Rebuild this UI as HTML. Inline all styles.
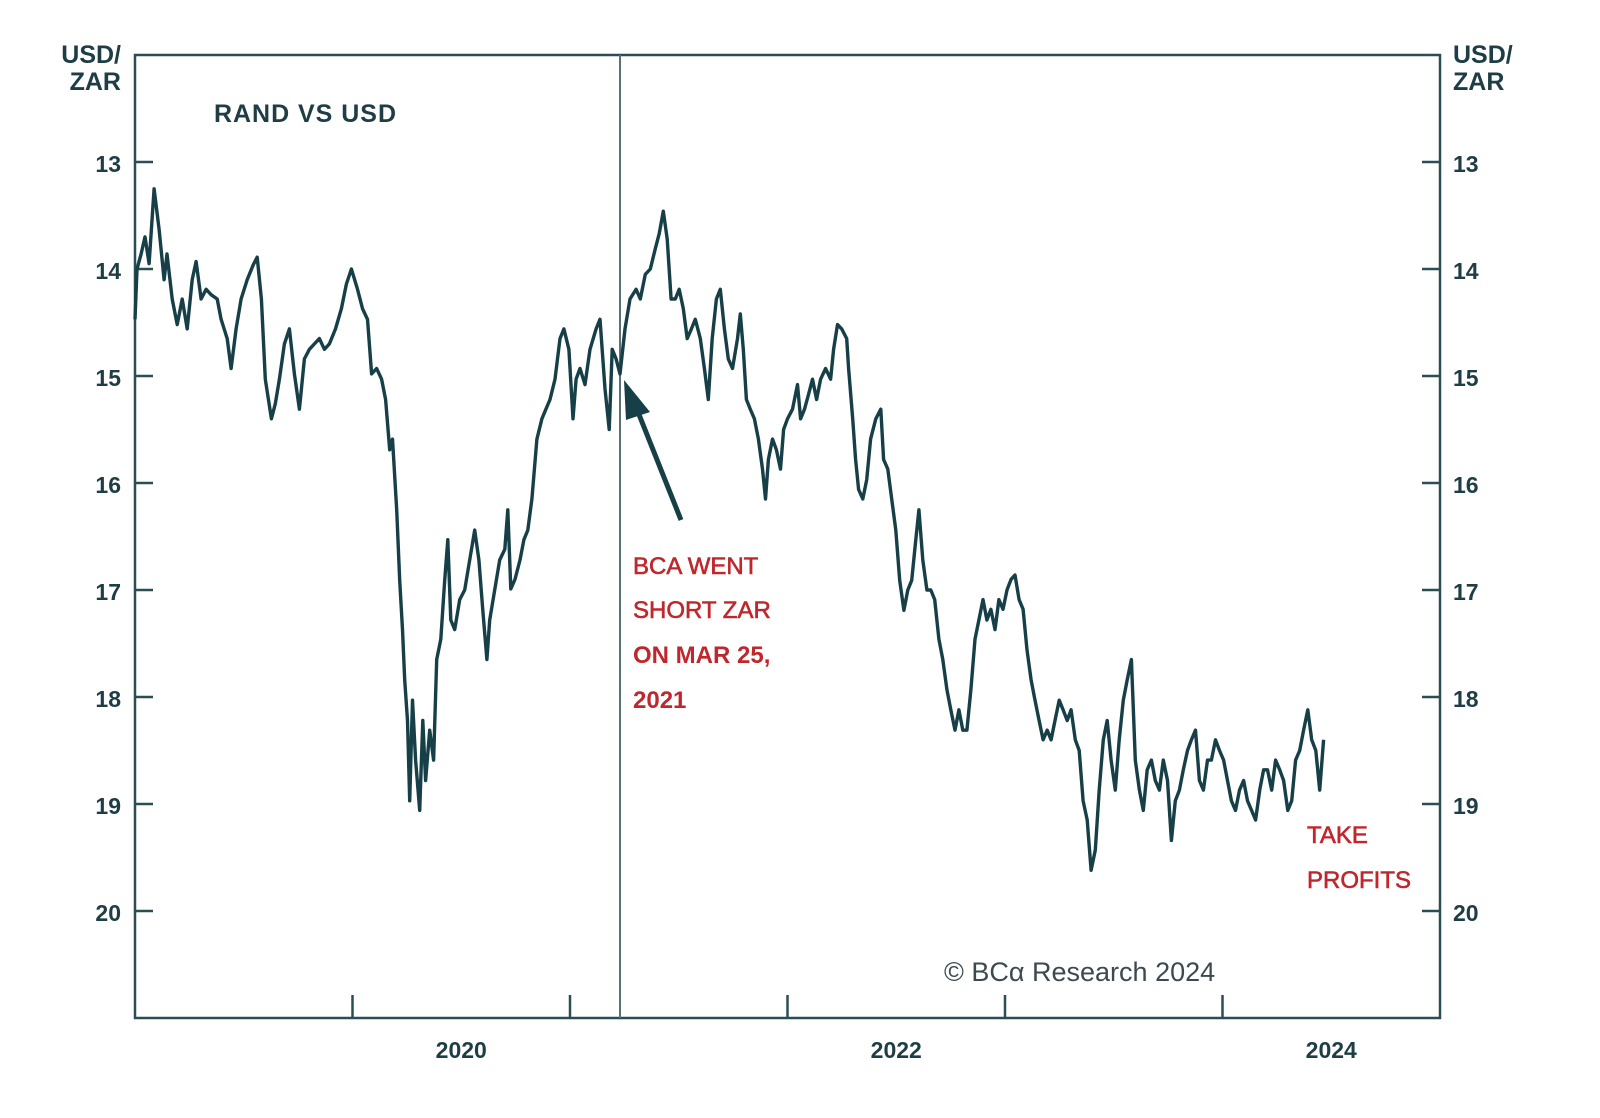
<!DOCTYPE html>
<html><head><meta charset="utf-8">
<style>
html,body{margin:0;padding:0;background:#fff;}
svg{display:block;}
text{font-family:"Liberation Sans",sans-serif;}
</style></head>
<body>
<svg id="chart" width="1600" height="1118" viewBox="0 0 1600 1118" xmlns="http://www.w3.org/2000/svg">
<g id="axes"></g>
<g id="series"></g>
<g id="annot"></g>
</svg>
<script>
// Years since 2019-01-01
const dates = [0,.009,.028,.046,.065,.088,.111,.134,.147,.171,.194,.217,.240,.263,.281,.304,.327,.350,.378,.396,.424,.442,.465,.488,.516,.544,.562,.581,.599,.627,.645,.664,.687,.710,.733,.756,.779,.802,.825,.848,.871,.894,.922,.949,.972,.995,
1.023,1.046,1.069,1.088,1.111,1.134,1.152,1.171,1.184,1.203,1.217,1.230,1.240,1.253,1.263,1.276,1.290,1.309,1.323,1.336,1.355,1.373,1.387,1.406,1.424,1.438,1.452,1.470,1.493,1.516,1.539,1.562,1.581,1.599,1.618,1.631,1.654,1.677,1.700,1.714,1.728,1.747,1.770,1.788,1.806,1.825,1.848,1.871,1.889,1.908,1.931,1.954,1.972,1.995,
2.014,2.028,2.046,2.069,2.092,2.120,2.138,2.161,2.180,2.194,2.212,2.230,2.253,2.276,2.304,2.323,2.346,2.369,2.392,2.410,2.429,2.447,2.465,2.484,2.502,2.521,2.539,2.558,2.576,2.599,2.618,2.636,2.654,2.673,2.691,2.710,2.728,2.747,2.770,2.783,2.797,2.811,2.829,2.848,2.866,2.885,2.899,2.912,2.931,2.949,2.968,2.982,
3.000,3.023,3.046,3.060,3.078,3.097,3.115,3.134,3.152,3.175,3.198,3.212,3.230,3.249,3.272,3.281,3.300,3.313,3.327,3.346,3.364,3.382,3.406,3.429,3.442,3.461,3.479,3.498,3.516,3.535,3.553,3.571,3.590,3.604,3.622,3.641,3.659,3.677,3.696,3.714,3.733,3.751,3.770,3.788,3.806,3.825,3.843,3.862,3.880,3.899,3.917,3.935,3.954,3.972,3.991,
4.009,4.028,4.046,4.065,4.083,4.101,4.120,4.138,4.157,4.175,4.194,4.212,4.230,4.249,4.267,4.286,4.304,4.323,4.341,4.359,4.378,4.396,4.415,4.433,4.452,4.470,4.488,4.507,4.525,4.544,4.562,4.581,4.599,4.618,4.636,4.654,4.673,4.691,4.710,4.728,4.747,4.765,4.783,4.802,4.820,4.839,4.857,4.876,4.894,4.912,4.931,4.949,4.968,4.986,
5.005,5.023,5.041,5.060,5.078,5.097,5.115,5.134,5.152,5.171,5.189,5.207,5.226,5.244,5.263,5.281,5.300,5.318,5.336,5.355,5.373,5.392,5.410,5.429,5.447,5.465];
const usdzar = [14.47,14.0,13.86,13.70,13.95,13.25,13.63,14.1,13.86,14.28,14.52,14.28,14.56,14.1,13.93,14.28,14.19,14.24,14.28,14.47,14.65,14.93,14.56,14.28,14.1,13.96,13.89,14.28,15.03,15.40,15.26,15.03,14.70,14.56,14.98,15.31,14.84,14.75,14.70,14.65,14.75,14.70,14.56,14.37,14.14,14.0,
14.19,14.37,14.47,14.98,14.93,15.03,15.22,15.69,15.59,16.25,16.91,17.37,17.84,18.22,18.97,18.03,18.59,19.06,18.22,18.78,18.31,18.59,17.65,17.46,16.91,16.53,17.28,17.37,17.09,17.00,16.72,16.44,16.72,17.19,17.65,17.28,17.00,16.72,16.62,16.25,16.99,16.90,16.72,16.53,16.44,16.15,15.59,15.40,15.31,15.22,15.03,14.65,14.56,14.75,
15.40,15.03,14.93,15.08,14.75,14.56,14.47,15.12,15.50,14.75,14.84,14.98,14.56,14.28,14.19,14.28,14.05,14.0,13.81,13.67,13.46,13.72,14.28,14.28,14.19,14.37,14.65,14.56,14.47,14.65,14.93,15.22,14.65,14.28,14.19,14.56,14.84,14.93,14.65,14.42,14.75,15.22,15.31,15.40,15.59,15.87,16.15,15.78,15.59,15.69,15.87,15.50,
15.40,15.31,15.08,15.40,15.31,15.17,15.03,15.22,15.03,14.93,15.03,14.75,14.52,14.56,14.65,14.93,15.40,15.78,16.06,16.15,15.97,15.59,15.40,15.31,15.78,15.87,16.15,16.44,16.91,17.19,17.00,16.91,16.53,16.25,16.72,17.00,17.00,17.09,17.46,17.65,17.93,18.12,18.31,18.12,18.31,18.31,17.93,17.46,17.28,17.09,17.28,17.18,17.37,17.09,17.18,
17.00,16.90,16.86,17.09,17.18,17.56,17.84,18.03,18.22,18.40,18.31,18.40,18.22,18.03,18.12,18.22,18.12,18.40,18.50,18.97,19.15,19.62,19.43,18.87,18.40,18.22,18.59,18.87,18.40,18.03,17.84,17.65,18.59,18.87,19.06,18.68,18.59,18.78,18.87,18.59,18.78,19.34,18.97,18.87,18.68,18.50,18.40,18.31,18.78,18.87,18.59,18.59,18.40,18.50,
18.59,18.78,18.97,19.06,18.87,18.78,18.97,19.06,19.15,18.87,18.68,18.68,18.87,18.59,18.68,18.78,19.06,18.97,18.59,18.50,18.31,18.12,18.40,18.50,18.87,18.40];
const yTicks = [13,14,15,16,17,18,19,20];
const xTickYears = [1,2,3,4,5]; // year boundaries 2020..2024
const xLabels = ["2020","2022","2024"];
const xLabelPos = [1.5,3.5,5.5];
const signalDate = 2.23;

const NS="http://www.w3.org/2000/svg";
const L=135,R=1440,T=55,B=1018;
const X0=0,X1=6,Y0=12,Y1=21;
function sx(d){return L+(d-X0)/(X1-X0)*(R-L);}
function sy(v){return T+(v-Y0)/(Y1-Y0)*(B-T);}
function mk(tag,attrs,parent,txt){const e=document.createElementNS(NS,tag);for(const k in attrs)e.setAttribute(k,attrs[k]);if(txt!==undefined)e.textContent=txt;parent.appendChild(e);return e;}
const axes=document.getElementById('axes'),series=document.getElementById('series'),annot=document.getElementById('annot');
const AX="#2b4e55",TX="#1f3d45",RED="#c0272d";

let f=mk('rect',{x:L,y:T,width:R-L,height:B-T,fill:'none',stroke:AX,'stroke-width':2.5},axes);



yTicks.forEach(v=>{
  const y=sy(v);
  let t1=mk('line',{x1:L,x2:L+18,y1:y,y2:y,stroke:AX,'stroke-width':2.5},axes);
  
  
  let t2=mk('line',{x1:R-18,x2:R,y1:y,y2:y,stroke:AX,'stroke-width':2.5},axes);
  
  
  let l1=mk('text',{x:121,y:y+10,'text-anchor':'end','font-size':23,'font-weight':'bold',fill:TX},axes,String(v));
  
  
  let l2=mk('text',{x:1453,y:y+10,'text-anchor':'start','font-size':23,'font-weight':'bold',fill:TX},axes,String(v));
  
  
});
xTickYears.forEach(d=>{
  const x=sx(d);
  let t=mk('line',{x1:x,x2:x,y1:B,y2:B-23,stroke:AX,'stroke-width':2.5},axes);
  
  
});
xLabels.forEach((s,i)=>{
  let t=mk('text',{x:sx(xLabelPos[i]),y:1058,'text-anchor':'middle','font-size':23,'font-weight':'bold',fill:TX},axes,s);
  
  
});
[["USD/",121,63,'end'],["ZAR",121,90,'end'],["USD/",1453,63,'start'],["ZAR",1453,90,'start']].forEach(a=>{
  let t=mk('text',{x:a[1],y:a[2],'text-anchor':a[3],'font-size':25,'font-weight':'bold',fill:TX},axes,a[0]);
  
  
});
let ti=mk('text',{x:214,y:122,'font-size':25,'font-weight':'bold',fill:TX,textLength:182},axes,"RAND VS USD");



let vl=mk('line',{x1:sx(signalDate),x2:sx(signalDate),y1:T,y2:B,stroke:'#5a6f73','stroke-width':2},series);



let pts=dates.map((d,i)=>sx(d).toFixed(1)+','+sy(usdzar[i]).toFixed(1)).join(' ');
let pl=mk('polyline',{points:pts,fill:'none',stroke:'#163f47','stroke-width':3.4,'stroke-linejoin':'round'},series);



let ar=mk('line',{x1:681,y1:520,x2:638,y2:412,stroke:'#163f47','stroke-width':5},annot);


let ah=mk('polygon',{points:'624,380 650,412 626,420',fill:'#163f47'},annot);



[["BCA WENT",574,'normal'],["SHORT ZAR",618,'normal'],["ON MAR 25,",663,'bold'],["2021",708,'bold']].forEach(a=>{
  let t=mk('text',{x:633,y:a[1],'font-size':24,'font-weight':a[2],fill:RED,stroke:RED,'stroke-width':a[2]==='bold'?0:0.6},annot,a[0]);
  
  
});
[["TAKE",843],["PROFITS",888]].forEach(a=>{
  let t=mk('text',{x:1307,y:a[1],'font-size':24,fill:RED,stroke:RED,'stroke-width':0.6},annot,a[0]);
  
  
});
let cp=mk('text',{x:944,y:981,'font-size':27,fill:'#3a4a4f','font-family':'"Liberation Serif",serif'},annot,"© BCα Research 2024");


</script>
</body></html>
